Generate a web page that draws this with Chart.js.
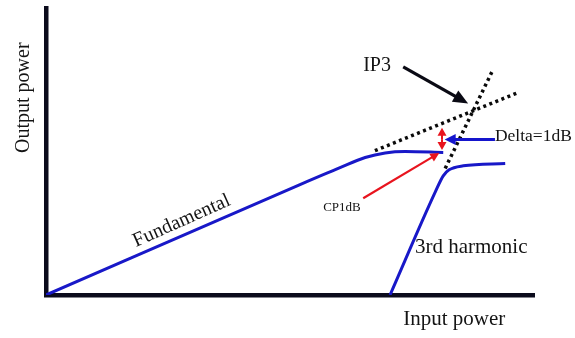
<!DOCTYPE html>
<html>
<head>
<meta charset="utf-8">
<script src="https://cdn.jsdelivr.net/npm/chart.js@4.4.1/dist/chart.umd.min.js"></script>
<style>
  html, body { margin: 0; padding: 0; background: #fff; }
  #wrap { width: 575px; height: 338px; }
</style>
</head>
<body>
<div id="wrap"><canvas id="c"></canvas></div>
<script>
// curves, in arbitrary units (input 0..100, output 0..100)
const fundX = [0, 52.05, 60.25, 65.4, 69.5, 73.6, 81.4];
const fundY = [0, 38.5, 44.4, 47.9, 49.5, 50.0, 49.65];

const harmX = [70.5, 79.8, 81.4, 82.6, 85.5, 94.1];
const harmY = [0, 36, 41.5, 43.6, 45.0, 45.8];

// dotted extrapolations
const extFundX = [67.4, 96.7];
const extFundY = [50.3, 70.5];
const extHarmX = [81.8, 91.6];
const extHarmY = [44.1, 78.5];

// arrows: [x1, y1, x2, y2, color, line width, head length, head half width]
const arrows = [
  [73.2, 79.5, 86.5, 66.7, '#0a0a14', 3.2, 15, 6.5],  // IP3
  [81.15, 54.3, 81.15, 58.3, '#e8141e', 2, 8, 4.5],   // delta up
  [81.15, 54.3, 81.15, 50.5, '#e8141e', 2, 8, 4.5],   // delta down
  [92.0, 54.2, 81.7, 54.2, '#1515cc', 3, 11, 5.5],    // Delta=1dB
  [65.0, 33.7, 80.6, 49.5, '#e8141e', 2.2, 9, 4.5]    // CP1dB
];

// labels: [text, x, y, size, align, angle]
const labels = [
  ['IP3', 65.0, 79.9, 20, 'left', 0],
  ['Delta=1dB', 92.0, 55.2, 17.5, 'left', 0],
  ['CP1dB', 56.8, 30.6, 13, 'left', 0],
  ['Fundamental', 27.8, 25.8, 20, 'center', -24],
  ['3rd harmonic', 75.6, 16.7, 21, 'left', 0],
  ['Input power', 73.2, -8.7, 21, 'left', 0],
  ['Output power', -4.6, 68.75, 20, 'center', -90]
];

const pts = (xs, ys) => xs.map((x, i) => ({x: x, y: ys[i]}));

const blue = '#1818c8';

const annot = {
  id: 'annot',
  afterDatasetsDraw(chart) {
    const ctx = chart.ctx;
    const sx = chart.scales.x, sy = chart.scales.y;
    ctx.save();
    arrows.forEach(a => {
      const x1 = sx.getPixelForValue(a[0]), y1 = sy.getPixelForValue(a[1]);
      const x2 = sx.getPixelForValue(a[2]), y2 = sy.getPixelForValue(a[3]);
      const ang = Math.atan2(y2 - y1, x2 - x1);
      const hl = a[6], hw = a[7];
      ctx.strokeStyle = a[4];
      ctx.fillStyle = a[4];
      ctx.lineWidth = a[5];
      ctx.beginPath();
      ctx.moveTo(x1, y1);
      ctx.lineTo(x2 - Math.cos(ang) * hl * 0.8, y2 - Math.sin(ang) * hl * 0.8);
      ctx.stroke();
      ctx.beginPath();
      ctx.moveTo(x2, y2);
      ctx.lineTo(x2 - Math.cos(ang) * hl - Math.sin(ang) * hw, y2 - Math.sin(ang) * hl + Math.cos(ang) * hw);
      ctx.lineTo(x2 - Math.cos(ang) * hl + Math.sin(ang) * hw, y2 - Math.sin(ang) * hl - Math.cos(ang) * hw);
      ctx.closePath();
      ctx.fill();
    });
    ctx.fillStyle = '#141414';
    ctx.textBaseline = 'middle';
    labels.forEach(l => {
      ctx.save();
      ctx.translate(sx.getPixelForValue(l[1]), sy.getPixelForValue(l[2]));
      ctx.rotate(l[5] * Math.PI / 180);
      ctx.font = l[3] + 'px "Liberation Serif", "Times New Roman", serif';
      ctx.textAlign = l[4];
      ctx.fillText(l[0], 0, 0);
      ctx.restore();
    });
    ctx.restore();
  }
};

new Chart(document.getElementById('c'), {
  type: 'scatter',
  data: {
    datasets: [
      {
        data: pts(fundX, fundY),
        showLine: true,
        borderColor: blue,
        borderWidth: 3,
        pointRadius: 0,
        cubicInterpolationMode: 'monotone'
      },
      {
        data: pts(harmX, harmY),
        showLine: true,
        borderColor: blue,
        borderWidth: 3,
        pointRadius: 0,
        cubicInterpolationMode: 'monotone'
      },
      {
        data: pts(extFundX, extFundY),
        showLine: true,
        borderColor: '#0a0a0a',
        borderWidth: 3.5,
        borderDash: [3, 3.5],
        pointRadius: 0
      },
      {
        data: pts(extHarmX, extHarmY),
        showLine: true,
        borderColor: '#0a0a0a',
        borderWidth: 3.5,
        borderDash: [3, 3.5],
        pointRadius: 0
      }
    ]
  },
  options: {
    responsive: true,
    maintainAspectRatio: false,
    animation: false,
    layout: { padding: { left: 46, top: 8, right: 41, bottom: 43 } },
    plugins: { legend: { display: false }, tooltip: { enabled: false } },
    scales: {
      x: {
        type: 'linear', min: 0, max: 100,
        ticks: { display: false },
        grid: { display: false, drawTicks: false },
        border: { display: true, color: '#0b0b1c', width: 4.5 }
      },
      y: {
        type: 'linear', min: 0, max: 100,
        ticks: { display: false },
        grid: { display: false, drawTicks: false },
        border: { display: true, color: '#0b0b1c', width: 4.5 }
      }
    }
  },
  plugins: [annot]
});
</script>
</body>
</html>
